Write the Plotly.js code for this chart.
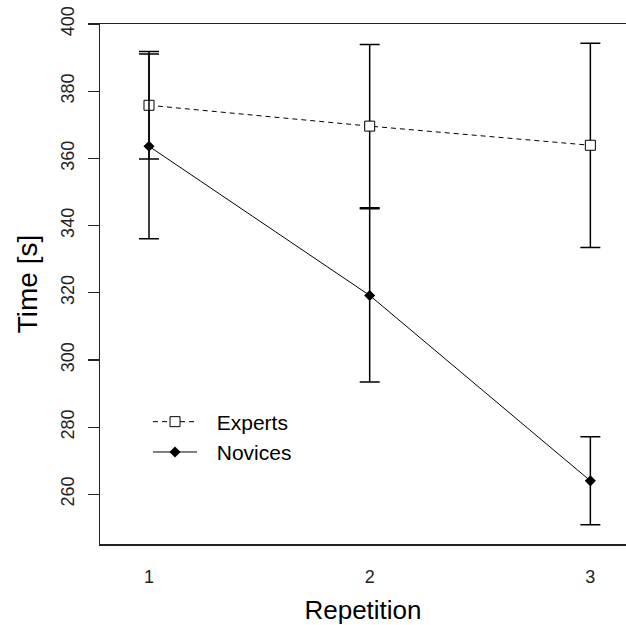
<!DOCTYPE html>
<html>
<head>
<meta charset="utf-8">
<script src="https://cdn.plot.ly/plotly-3.0.1.min.js"></script>
<style>html,body{margin:0;padding:0;overflow:hidden;background:#fff;}</style>
</head>
<body>
<div id="chart" style="width:626px;height:625px;"></div>
<script>
const repetitions = [1, 2, 3];
const expertsMean = [375.8, 369.6, 363.9];
const expertsErr = [16.0, 24.3, 30.4];
const novicesMean = [363.6, 319.2, 264.0];
const novicesErr = [27.5, 25.8, 13.1];
const seriesNames = ['Experts', 'Novices'];
const yTicks = [260, 280, 300, 320, 340, 360, 380, 400];
const xTicks = [1, 2, 3];

const FONT = 'Arial, "Liberation Sans", sans-serif';
const PAD = '\u2002\u2009';

const traces = [
  {
    x: repetitions, y: expertsMean, name: PAD + seriesNames[0],
    type: 'scatter', mode: 'lines+markers',
    line: {color: '#000', width: 1, dash: '5px,4px'},
    marker: {symbol: 'square', size: 10, color: '#fff', line: {color: '#000', width: 1}},
    error_y: {type: 'data', array: expertsErr, visible: true, color: '#000', thickness: 1.5, width: 10}
  },
  {
    x: repetitions, y: novicesMean, name: PAD + seriesNames[1],
    type: 'scatter', mode: 'lines+markers',
    line: {color: '#000', width: 1},
    marker: {symbol: 'diamond', size: 8.5, color: '#000', line: {color: '#000', width: 0}},
    error_y: {type: 'data', array: novicesErr, visible: true, color: '#000', thickness: 1.5, width: 10}
  }
];

const layout = {
  width: 626, height: 625,
  margin: {l: 100, r: 0, t: 24, b: 81, pad: 0},
  paper_bgcolor: '#fff', plot_bgcolor: '#fff',
  font: {family: FONT, color: '#000'},
  showlegend: true,
  legend: {
    x: 0.0913, y: 0.274, xanchor: 'left', yanchor: 'top',
    bgcolor: 'rgba(0,0,0,0)', borderwidth: 0,
    font: {family: FONT, size: 21, color: '#000'},
    itemwidth: 44, tracegroupgap: 0
  },
  xaxis: {
    range: [0.778, 3.1615], tickvals: xTicks, ticktext: xTicks.map(String),
    ticks: '', showgrid: false, zeroline: false,
    showline: true, linecolor: '#222', linewidth: 1.5, mirror: true,
    tickfont: {family: FONT, size: 18, color: '#222'},
    ticklabelstandoff: 16,
    title: {text: 'Repetition', font: {family: FONT, size: 26, color: '#000'}, standoff: 16}
  },
  yaxis: {
    range: [245.2, 400], tickvals: yTicks, ticktext: yTicks.map(String),
    ticks: 'outside', ticklen: 11, tickwidth: 1.2, tickcolor: '#222',
    tickangle: -90, showgrid: false, zeroline: false,
    showline: true, linecolor: '#222', linewidth: 1.5, mirror: false,
    tickfont: {family: FONT, size: 18, color: '#222'},
    ticklabelstandoff: 6,
    title: {text: 'Time [s]', font: {family: FONT, size: 28, color: '#000'}, standoff: 12}
  }
};

Plotly.newPlot('chart', traces, layout, {displayModeBar: false, staticPlot: true});
</script>
</body>
</html>
